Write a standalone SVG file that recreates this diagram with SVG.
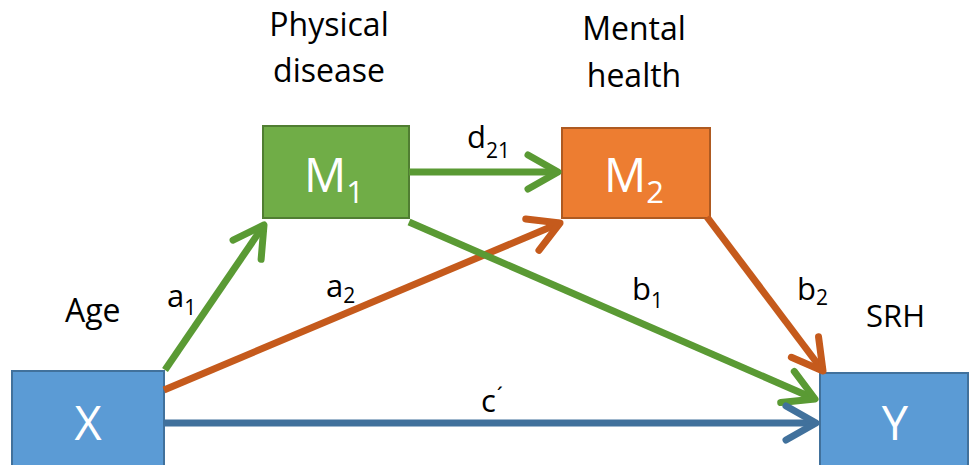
<svg xmlns="http://www.w3.org/2000/svg" width="972" height="465" viewBox="0 0 972 465">
<defs>
<style>
.lbl{font-family:"Open Sans","Liberation Sans",sans-serif;font-size:31px;fill:#000}
.sub{font-size:21px}
.box{font-family:"Open Sans","Liberation Sans",sans-serif;font-size:47px;fill:#fff}
.bsub{font-size:31px}
.ln{fill:none;stroke-width:7;stroke-linecap:butt}
.g{stroke:#5A9A34}
.o{stroke:#C55A1C}
.b{stroke:#41719C}
</style>
<marker id="ag" viewBox="-40 -25 50 50" markerWidth="50" markerHeight="50" refX="0" refY="0" orient="auto" markerUnits="userSpaceOnUse">
<path d="M-30,-17 L0,0 L-30,17" fill="none" stroke="#5A9A34" stroke-width="7" stroke-linecap="round" stroke-linejoin="round"/>
</marker>
<marker id="ao" viewBox="-40 -25 50 50" markerWidth="50" markerHeight="50" refX="0" refY="0" orient="auto" markerUnits="userSpaceOnUse">
<path d="M-30,-17 L0,0 L-30,17" fill="none" stroke="#C55A1C" stroke-width="7" stroke-linecap="round" stroke-linejoin="round"/>
</marker>
<marker id="ab" viewBox="-40 -25 50 50" markerWidth="50" markerHeight="50" refX="0" refY="0" orient="auto" markerUnits="userSpaceOnUse">
<path d="M-30,-17 L0,0 L-30,17" fill="none" stroke="#41719C" stroke-width="7" stroke-linecap="round" stroke-linejoin="round"/>
</marker>
</defs>
<rect width="972" height="465" fill="#fff"/>

<g id="node-X">
<rect x="12" y="371" width="152" height="100" fill="#5B9BD5" stroke="#41719C" stroke-width="2"/>
<text class="box" x="88" y="440" text-anchor="middle">X</text>
</g>
<g id="node-Y">
<rect x="820" y="373" width="148" height="100" fill="#5B9BD5" stroke="#41719C" stroke-width="2"/>
<text class="box" x="895" y="440" text-anchor="middle">Y</text>
</g>
<g id="node-M1">
<rect x="263" y="126" width="146" height="92" fill="#70AD47" stroke="#507E32" stroke-width="2"/>
<text class="box" x="304" y="192">M<tspan class="bsub" dy="11">1</tspan></text>
</g>
<g id="node-M2">
<rect x="562" y="128" width="148" height="90" fill="#ED7D31" stroke="#AE5A21" stroke-width="2"/>
<text class="box" x="604" y="192">M<tspan class="bsub" dy="11">2</tspan></text>
</g>

<g id="labels">
<text class="lbl" x="329" y="36" text-anchor="middle" style="font-size:32px">Physical</text>
<text class="lbl" x="329" y="82" text-anchor="middle" style="font-size:32px">disease</text>
<text class="lbl" x="634" y="40" text-anchor="middle" style="font-size:32px">Mental</text>
<text class="lbl" x="634" y="87" text-anchor="middle" style="font-size:32px">health</text>
<text class="lbl" x="65" y="322" style="font-size:32px">Age</text>
<text class="lbl" x="866" y="327" style="font-size:31px">SRH</text>
</g>

<g id="connectors">
<line class="ln g" x1="409" y1="172" x2="558" y2="172" marker-end="url(#ag)"/>
<line class="ln g" x1="165" y1="370" x2="264" y2="225" marker-end="url(#ag)"/>
<line class="ln o" x1="164" y1="390" x2="560" y2="223" marker-end="url(#ao)"/>
<line class="ln g" x1="409" y1="222" x2="815" y2="399" marker-end="url(#ag)"/>
<line class="ln o" x1="707" y1="217" x2="823" y2="371" marker-end="url(#ao)"/>
<line class="ln b" x1="164" y1="423" x2="816" y2="423" marker-end="url(#ab)"/>
<text class="lbl" x="467" y="148">d<tspan class="sub" dy="10">21</tspan></text>
<text class="lbl" x="167" y="307">a<tspan class="sub" dy="8">1</tspan></text>
<text class="lbl" x="326" y="297">a<tspan class="sub" dy="6">2</tspan></text>
<text class="lbl" x="632" y="300">b<tspan class="sub" dy="8">1</tspan></text>
<text class="lbl" x="797" y="300">b<tspan class="sub" dy="5">2</tspan></text>
<text class="lbl" x="481" y="412">c<tspan dx="1" dy="-9" style="font-size:22px">´</tspan></text>
</g>
</svg>
